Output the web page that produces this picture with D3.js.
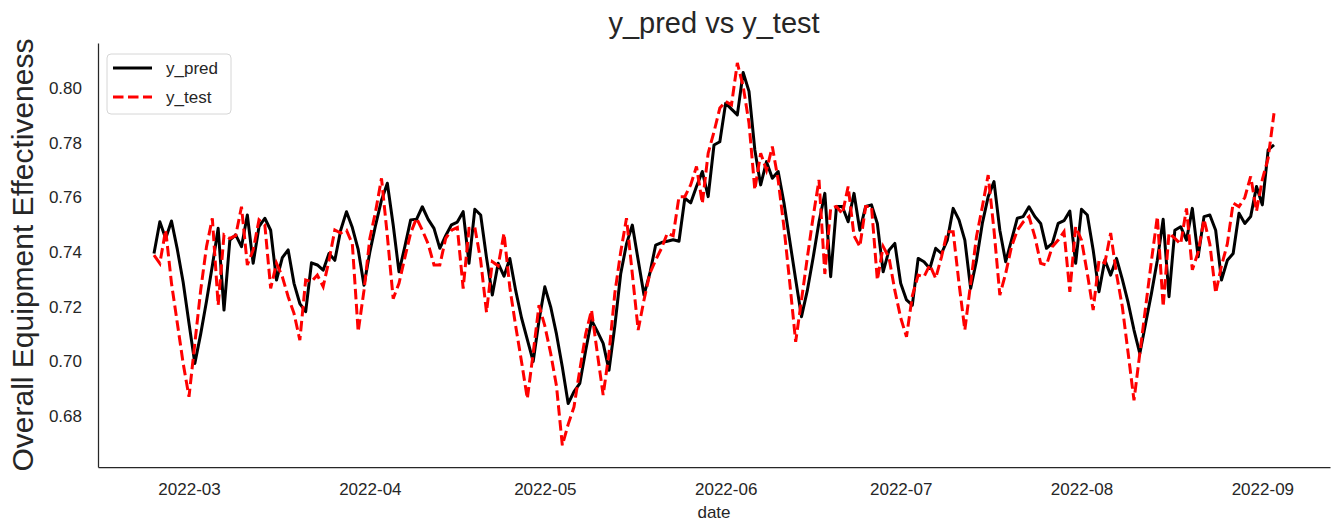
<!DOCTYPE html>
<html>
<head>
<meta charset="utf-8">
<script src="https://cdn.jsdelivr.net/npm/d3@7"></script>
<style>
  body { margin: 0; background: #fff; }
  text { font-family: "Liberation Sans", Arial, sans-serif; fill: #262626; }
</style>
</head>
<body>
<div id="chart"></div>
<script>
// daily series, first day 2022-02-23
const startDate = "2022-02-23";

const yPred = [
  0.7395, 0.7511, 0.7450, 0.7514, 0.741, 0.729, 0.714, 0.6993, 0.710, 0.722,
  0.735, 0.7487, 0.7188, 0.7444, 0.7463, 0.742, 0.7536, 0.7359, 0.7493, 0.7524,
  0.748, 0.7298, 0.738, 0.7408, 0.7286, 0.7212, 0.7182, 0.7361, 0.7353, 0.7334,
  0.7395, 0.737, 0.748, 0.7548, 0.749, 0.741, 0.7279, 0.740, 0.750, 0.759,
  0.7652, 0.750, 0.7328, 0.742, 0.7518, 0.752, 0.7566, 0.752, 0.7487, 0.7414,
  0.746, 0.750, 0.751, 0.7548, 0.7359, 0.7557, 0.7536, 0.738, 0.7243, 0.7359,
  0.7312, 0.7377, 0.726, 0.716, 0.708, 0.700, 0.715, 0.7273, 0.720, 0.710,
  0.698, 0.6846, 0.689, 0.692, 0.704, 0.7151, 0.711, 0.7066, 0.6968, 0.713,
  0.732, 0.743, 0.7499, 0.7371, 0.7243, 0.7322, 0.7426, 0.7435, 0.744, 0.7445,
  0.744, 0.7597, 0.758, 0.764, 0.7695, 0.7603, 0.7792, 0.7804, 0.7945, 0.7923,
  0.7902, 0.8057, 0.7988, 0.7774, 0.7646, 0.7731, 0.767, 0.7695, 0.758, 0.744,
  0.730, 0.7164, 0.726, 0.738, 0.751, 0.7615, 0.731, 0.7567, 0.7567, 0.7511,
  0.7615, 0.748, 0.7567, 0.7573, 0.7505, 0.7328, 0.7407, 0.7432, 0.7286, 0.7225,
  0.7206, 0.7377, 0.7365, 0.734, 0.7414, 0.7395, 0.7444, 0.756, 0.7518, 0.7444,
  0.7267, 0.737, 0.7505, 0.7603, 0.7658, 0.748, 0.7365, 0.7444, 0.7524, 0.753,
  0.7566, 0.753, 0.7505, 0.7414, 0.7432, 0.7505, 0.7515, 0.755, 0.7359, 0.7557,
  0.7536, 0.7408, 0.7255, 0.7371, 0.7316, 0.7377, 0.730, 0.7215, 0.7115, 0.7029,
  0.714, 0.725, 0.737, 0.752, 0.7237, 0.748, 0.7493, 0.7444, 0.756, 0.7383,
  0.753, 0.7536, 0.748, 0.7298, 0.737, 0.7395, 0.7542, 0.7505, 0.753, 0.764,
  0.7573, 0.7774, 0.7792
];

const yTest = [
  0.7389, 0.7359, 0.7481, 0.7286, 0.714, 0.6993, 0.6871, 0.7066, 0.726, 0.742,
  0.7524, 0.7206, 0.7463, 0.745, 0.746, 0.7566, 0.7353, 0.7408, 0.7518, 0.750,
  0.7267, 0.7359, 0.731, 0.7237, 0.7176, 0.7078, 0.7298, 0.7292, 0.7316, 0.7274,
  0.737, 0.7481, 0.747, 0.748, 0.743, 0.7109, 0.726, 0.745, 0.755, 0.767,
  0.746, 0.723, 0.7286, 0.738, 0.747, 0.7524, 0.748, 0.743, 0.7353, 0.7353,
  0.745, 0.748, 0.749, 0.7267, 0.7487, 0.749, 0.737, 0.718, 0.7365, 0.735,
  0.7469, 0.727, 0.713, 0.700, 0.6864, 0.703, 0.7206, 0.713, 0.703, 0.691,
  0.6693, 0.677, 0.6834, 0.697, 0.710, 0.7188, 0.703, 0.6877, 0.703, 0.725,
  0.740, 0.7524, 0.732, 0.7115, 0.7225, 0.7322, 0.7371, 0.7414, 0.7469, 0.746,
  0.7603, 0.7603, 0.7646, 0.7713, 0.7578, 0.7762, 0.784, 0.7927, 0.7951, 0.7939,
  0.8092, 0.8006, 0.7872, 0.7628, 0.7762, 0.770, 0.7786, 0.7664, 0.749, 0.7286,
  0.7072, 0.7225, 0.738, 0.753, 0.7664, 0.732, 0.756, 0.7567, 0.754, 0.764,
  0.746, 0.742, 0.7567, 0.7567, 0.7298, 0.742, 0.738, 0.726, 0.716, 0.709,
  0.724, 0.7316, 0.731, 0.7353, 0.7304, 0.7383, 0.7475, 0.7475, 0.7286, 0.7115,
  0.7286, 0.7457, 0.7566, 0.7682, 0.748, 0.7243, 0.7322, 0.742, 0.748, 0.751,
  0.753, 0.7457, 0.7359, 0.7353, 0.742, 0.7444, 0.7475, 0.7255, 0.7493, 0.7444,
  0.7322, 0.7188, 0.737, 0.736, 0.747, 0.732, 0.720, 0.703, 0.6858, 0.703,
  0.720, 0.737, 0.753, 0.720, 0.747, 0.745, 0.743, 0.756, 0.7335, 0.740,
  0.752, 0.743, 0.725, 0.735, 0.743, 0.758, 0.7566, 0.760, 0.7677, 0.755,
  0.7665, 0.7744, 0.7908
];

const yTicks = [0.68, 0.70, 0.72, 0.74, 0.76, 0.78, 0.80];
const seriesNames = ["y_pred", "y_test"];

const width = 1340;
const height = 522;
const margin = { top: 43, right: 10, bottom: 55, left: 98 };
const lineWidth = 3;
const dashPattern = '10.5,4.5';

const start = d3.utcParse("%Y-%m-%d")(startDate);
const dates = yPred.map((v, i) => d3.utcDay.offset(start, i));

const svg = d3.select('#chart').append('svg')
  .attr('width', width)
  .attr('height', height);

// x domain with matplotlib-like 5% padding
const x0 = dates[0], x1 = dates[dates.length - 1];
const pad = (x1 - x0) * 0.05;
const x = d3.scaleUtc()
  .domain([new Date(+x0 - pad), new Date(+x1 + pad)])
  .range([margin.left, width - margin.right]);

const y = d3.scaleLinear()
  .domain([0.6614, 0.8165])
  .range([height - margin.bottom, margin.top]);

// axes (no tick marks, seaborn white style)
const xAxis = svg.append('g')
  .attr('transform', `translate(0,${height - margin.bottom})`)
  .call(d3.axisBottom(x).ticks(d3.utcMonth.every(1)).tickFormat(d3.utcFormat("%Y-%m")).tickSize(0).tickPadding(16));
xAxis.select('.domain').attr('stroke', '#262626').attr('stroke-width', 1.25);
xAxis.selectAll('text').style('font-size', '17px').attr('fill', '#262626');

const yAxis = svg.append('g')
  .attr('transform', `translate(${margin.left},0)`)
  .call(d3.axisLeft(y).tickValues(yTicks).tickFormat(d3.format(".2f")).tickSize(0).tickPadding(16));
yAxis.select('.domain').attr('stroke', '#262626').attr('stroke-width', 1.25);
yAxis.selectAll('text').style('font-size', '17px').attr('fill', '#262626');

const line = (vals) => d3.line()
  .x((d, i) => x(dates[i]))
  .y(d => y(d))(vals);

svg.append('path')
  .attr('d', line(yPred))
  .attr('fill', 'none')
  .attr('stroke', '#000')
  .attr('stroke-width', lineWidth)
  .attr('stroke-linejoin', 'round');

svg.append('path')
  .attr('d', line(yTest))
  .attr('fill', 'none')
  .attr('stroke', '#ff0000')
  .attr('stroke-width', lineWidth)
  .attr('stroke-dasharray', dashPattern);

// title and labels
svg.append('text')
  .attr('x', (margin.left + width - margin.right) / 2)
  .attr('y', 33)
  .attr('text-anchor', 'middle')
  .style('font-size', '29px')
  .text('y_pred vs y_test');

svg.append('text')
  .attr('transform', `translate(33,${(margin.top + height - margin.bottom) / 2}) rotate(-90)`)
  .attr('text-anchor', 'middle')
  .style('font-size', '30px')
  .text('Overall Equipment Effectiveness');

svg.append('text')
  .attr('x', (margin.left + width - margin.right) / 2)
  .attr('y', 518)
  .attr('text-anchor', 'middle')
  .style('font-size', '17px')
  .text('date');

// legend
const legend = svg.append('g');
legend.append('rect')
  .attr('x', 107).attr('y', 54)
  .attr('width', 124).attr('height', 60)
  .attr('rx', 4)
  .attr('fill', '#fff').attr('fill-opacity', 0.8)
  .attr('stroke', '#d6d6d6');

const legendStyles = [
  { color: '#000', dash: null },
  { color: '#ff0000', dash: dashPattern }
];
seriesNames.forEach((name, i) => {
  const ly = 68 + i * 29;
  legend.append('line')
    .attr('x1', 113).attr('x2', 152)
    .attr('y1', ly).attr('y2', ly)
    .attr('stroke', legendStyles[i].color)
    .attr('stroke-width', lineWidth)
    .attr('stroke-dasharray', legendStyles[i].dash);
  legend.append('text')
    .attr('x', 166).attr('y', ly + 6)
    .style('font-size', '17px')
    .text(name);
});
</script>
</body>
</html>
